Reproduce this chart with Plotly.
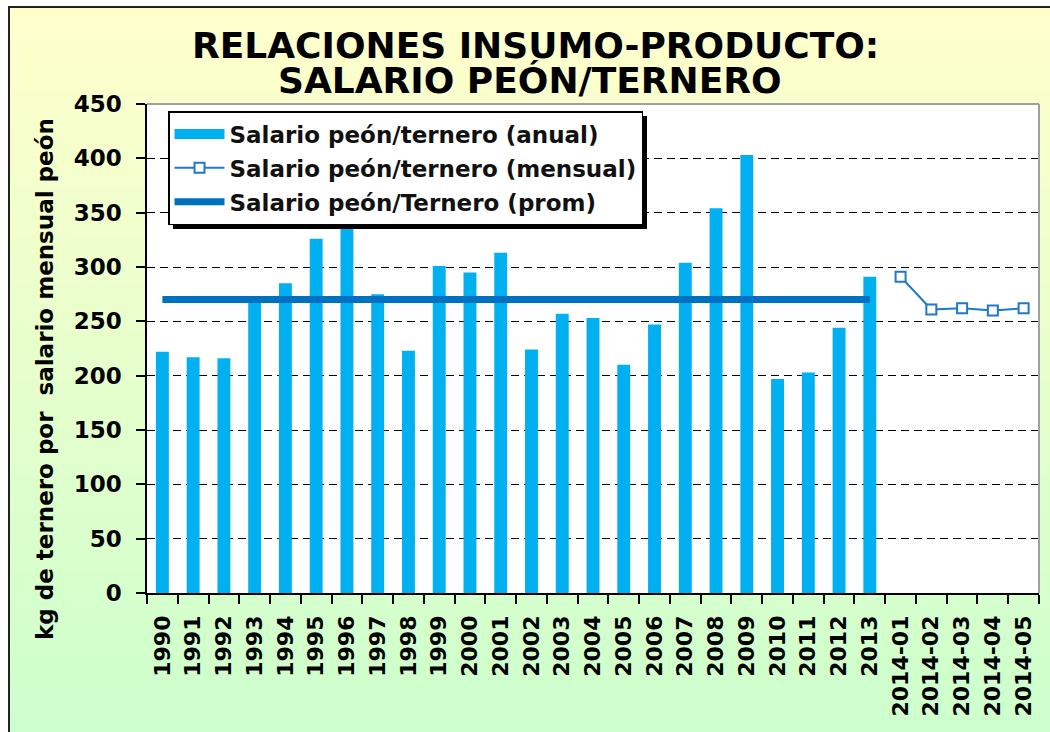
import plotly.graph_objects as go

# ---- data ----
years = [str(y) for y in range(1990, 2014)]
anual = [222, 217, 216, 270, 285, 326, 340, 275, 223, 301, 295, 313,
         224, 257, 253, 210, 247, 304, 354, 403, 197, 203, 244, 291]
months = ["2014-01", "2014-02", "2014-03", "2014-04", "2014-05"]
mensual = [291, 261, 262, 260, 262]
promedio = 270
y_ticks = [0, 50, 100, 150, 200, 250, 300, 350, 400, 450]

categories = years + months

# ---- page geometry (pixels) ----
W, H = 1050, 732
L, R, T, B = 147, 1039, 104, 593


def px(xp):
    return (xp - L) / (R - L)


def py(yp):
    return (B - yp) / (B - T)


FONT = "DejaVu Sans"
BAR = "#00B0F0"
AVG = "#0070C0"
MON = "#1F78C8"

fig = go.Figure()

fig.add_trace(go.Bar(
    x=years, y=anual, name="Salario peón/ternero (anual)",
    marker=dict(color=BAR, line=dict(width=0)), width=0.42,
    showlegend=False, legendgroup="a",
))
# legend entry drawn as a wide band like the bars
fig.add_trace(go.Scatter(
    x=[None], y=[None], mode="lines", name="Salario peón/ternero (anual)",
    line=dict(color=BAR, width=11), legendgroup="a",
))
fig.add_trace(go.Scatter(
    x=months, y=mensual, mode="lines+markers",
    name="Salario peón/ternero (mensual)",
    line=dict(color=MON, width=2),
    marker=dict(symbol="square", size=10, color="white",
                line=dict(color=MON, width=2)),
    legendgroup="b",
))
fig.add_trace(go.Scatter(
    x=[years[0], years[-1]], y=[promedio, promedio], mode="lines",
    name="Salario peón/Ternero (prom)",
    line=dict(color=AVG, width=7), legendgroup="c",
))

shapes = []
# vertical yellow -> green background
n = 61
top_px, bot_px = 7, 740
c0 = (255, 255, 204)
c1 = (204, 255, 204)
for i in range(n):
    t = i / (n - 1)
    col = tuple(round(c0[k] + (c1[k] - c0[k]) * t) for k in range(3))
    y0 = top_px + (bot_px - top_px) * i / n
    y1 = top_px + (bot_px - top_px) * (i + 1) / n + 0.6
    shapes.append(dict(type="rect", xref="paper", yref="paper",
                       x0=px(9), x1=px(1060), y0=py(y1), y1=py(y0),
                       fillcolor="rgb(%d,%d,%d)" % col, line=dict(width=0),
                       layer="below"))
# white plotting area
shapes.append(dict(type="rect", xref="paper", yref="paper", x0=0, x1=1, y0=0, y1=1,
                   fillcolor="white", line=dict(width=0), layer="below"))
# outer frame
shapes.append(dict(type="rect", xref="paper", yref="paper",
                   x0=px(9), x1=px(1062), y0=py(745), y1=py(7),
                   fillcolor="rgba(0,0,0,0)", line=dict(color="#222222", width=2),
                   layer="below"))
# plot border, top and right
shapes.append(dict(type="line", xref="paper", yref="paper", x0=0, x1=1, y0=1, y1=1,
                   line=dict(color="#A0A0A0", width=2), layer="above"))
shapes.append(dict(type="line", xref="paper", yref="paper", x0=1, x1=1, y0=0, y1=1,
                   line=dict(color="#A0A0A0", width=2), layer="above"))
# legend drop shadow
shapes.append(dict(type="rect", xref="paper", yref="paper",
                   x0=px(173), x1=px(647), y0=py(229), y1=py(116),
                   fillcolor="black", line=dict(width=0), layer="above"))

annotations = [
    dict(text="RELACIONES INSUMO-PRODUCTO:", xref="paper", yref="paper",
         x=px(535), y=py(46), xanchor="center", yanchor="middle", showarrow=False,
         font=dict(family=FONT, size=36, color="black", weight="bold")),
    dict(text="SALARIO PEÓN/TERNERO", xref="paper", yref="paper",
         x=px(530), y=py(80), xanchor="center", yanchor="middle", showarrow=False,
         font=dict(family=FONT, size=36, color="black", weight="bold")),
    dict(text="kg de ternero por \u00a0salario mensual peón", xref="paper", yref="paper",
         x=px(45), y=py(379), xanchor="center", yanchor="middle", showarrow=False,
         textangle=-90,
         font=dict(family=FONT, size=23, color="black", weight="bold")),
]

fig.update_layout(
    width=W, height=H,
    margin=dict(l=L, r=W - R, t=T, b=H - B, pad=0),
    paper_bgcolor="white", plot_bgcolor="white",
    showlegend=True,
    legend=dict(
        x=px(168), y=py(111), xanchor="left", yanchor="top",
        bgcolor="white", bordercolor="black", borderwidth=1.5,
        font=dict(family=FONT, size=23, color="#111111", weight="bold"),
        traceorder="grouped", tracegroupgap=1, itemwidth=50,
    ),
    bargap=0.58,
    shapes=shapes,
    annotations=annotations,
    xaxis=dict(
        type="category", categoryorder="array", categoryarray=categories,
        range=[-0.5, len(categories) - 0.5],
        showline=True, linecolor="black", linewidth=1.5,
        ticks="outside", ticklen=9, tickwidth=1.5, tickcolor="black",
        tickson="boundaries", tickangle=-90, showgrid=False,
        tickfont=dict(family=FONT, size=22, color="black", weight="bold"),
        ticklabelstandoff=12,
    ),
    yaxis=dict(
        range=[0, 450], tickvals=y_ticks, ticktext=[str(v) for v in y_ticks],
        showline=True, linecolor="black", linewidth=1.5,
        ticks="outside", ticklen=9, tickwidth=1.5, tickcolor="black",
        showgrid=True, gridcolor="black", gridwidth=1, griddash="8px,5px",
        zeroline=False,
        tickfont=dict(family=FONT, size=23, color="black", weight="bold"),
        ticklabelstandoff=10,
    ),
)

fig.write_html("out.html")
